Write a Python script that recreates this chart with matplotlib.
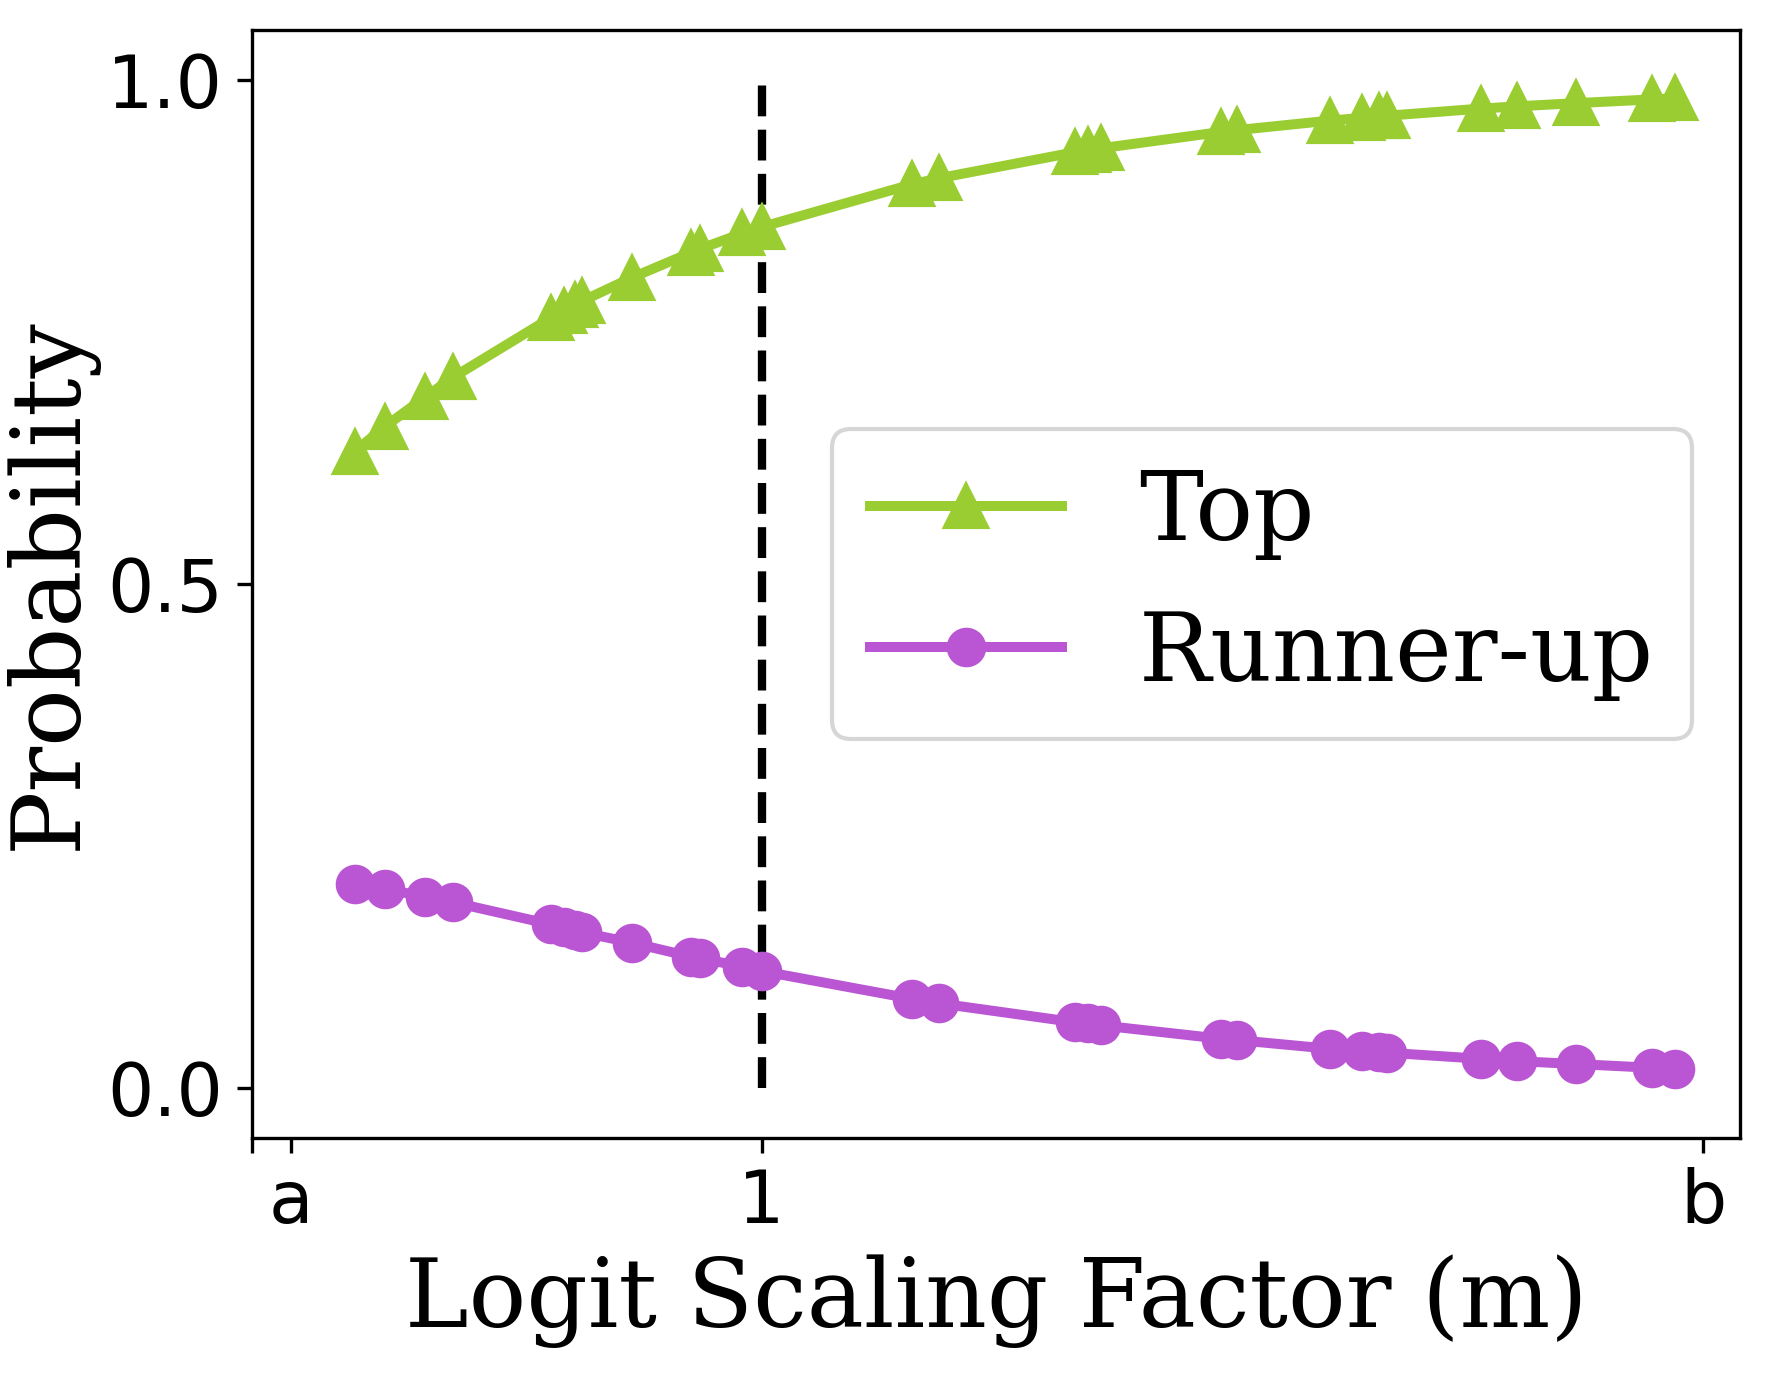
import matplotlib
matplotlib.use("Agg")
import matplotlib.pyplot as plt

# ---- data ----
scale_m = [0.5677, 0.5997, 0.6425, 0.6723, 0.7758, 0.7899, 0.8018, 0.8088,
           0.8619, 0.9248, 0.9351, 0.9795, 1.0001, 1.1594, 1.1882, 1.3333,
           1.3468, 1.3604, 1.4880, 1.5047, 1.6038, 1.6373, 1.6561, 1.6644,
           1.7645, 1.8021, 1.8647, 1.9456, 1.9700]
top_prob = [0.6314, 0.6562, 0.6854, 0.7052, 0.7640, 0.7712, 0.7765, 0.7806,
            0.8040, 0.8289, 0.8329, 0.8480, 0.8544, 0.8967, 0.9028, 0.9288,
            0.9307, 0.9326, 0.9488, 0.9506, 0.9601, 0.9627, 0.9644, 0.9649,
            0.9720, 0.9742, 0.9774, 0.9811, 0.9821]
runner_prob = [0.2025, 0.1972, 0.1896, 0.1840, 0.1621, 0.1592, 0.1565, 0.1542,
               0.1439, 0.1300, 0.1284, 0.1200, 0.1157, 0.0882, 0.0837, 0.0648,
               0.0638, 0.0618, 0.0485, 0.0472, 0.0385, 0.0366, 0.0353, 0.0346,
               0.0286, 0.0263, 0.0234, 0.0197, 0.0187]
xtick_pos = [0.4588, 0.5, 1.0, 2.0]
xtick_labels = ["", "a", "1", "b"]
ytick_pos = [0.0, 0.5, 1.0]
ytick_labels = ["0.0", "0.5", "1.0"]
vline_x = 1.0
series_names = ["Top", "Runner-up"]

plt.rcParams["font.family"] = ["DejaVu Serif"]

fig = plt.figure(figsize=(5.9, 4.59), dpi=300)
ax = fig.add_axes([0.1424, 0.1736, 0.9831 - 0.1424, 0.9782 - 0.1736])

ax.vlines(vline_x, 0, 1, colors="black", linestyles="--", linewidth=2, zorder=1)
ax.plot(scale_m, top_prob, color="yellowgreen", marker="^", markersize=10,
        linewidth=2.4, label=series_names[0], zorder=3)
ax.plot(scale_m, runner_prob, color="mediumorchid", marker="o", markersize=8.5,
        linewidth=2.4, label=series_names[1], zorder=3)

ax.set_xlim(0.4588, 2.0393)
ax.set_ylim(-0.05, 1.05)
ax.set_xticks(xtick_pos)
ax.set_xticklabels(xtick_labels)
ax.set_yticks(ytick_pos)
ax.set_yticklabels(ytick_labels)
for lab in ax.get_xticklabels() + ax.get_yticklabels():
    lab.set_fontfamily("DejaVu Sans")
    lab.set_fontsize(17.5)

ax.set_xlabel("Logit Scaling Factor (m)", fontsize=23)
ax.set_ylabel("Probability", fontsize=23, labelpad=2.5)
ax.legend(loc="center right", fontsize=23)

fig.savefig("out.png", dpi=300)
